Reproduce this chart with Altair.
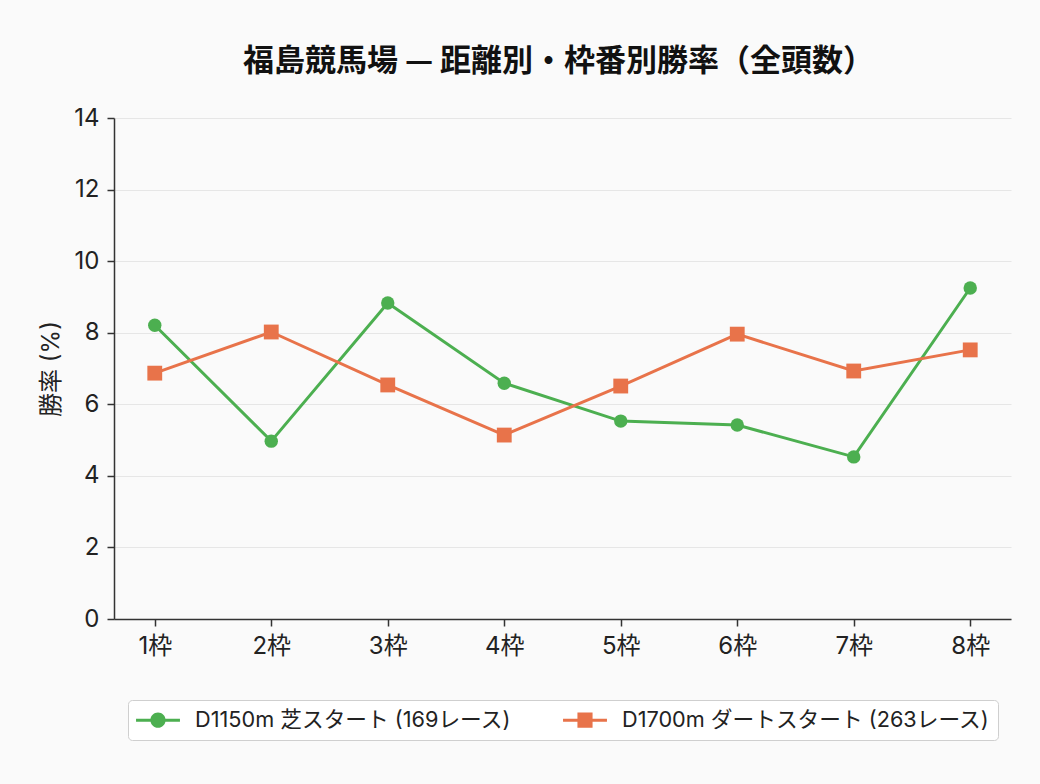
import altair as alt
import pandas as pd

# Win rate (%) by starting gate, Fukushima racecourse
frames = ["1枠", "2枠", "3枠", "4枠", "5枠", "6枠", "7枠", "8枠"]
turf_start_rate = [8.21, 4.97, 8.83, 6.59, 5.53, 5.42, 4.53, 9.25]
dirt_start_rate = [6.87, 8.02, 6.54, 5.14, 6.51, 7.96, 6.93, 7.52]
series_names = ["D1150m 芝スタート (169レース)", "D1700m ダートスタート (263レース)"]
series_colors = ["#4CAF50", "#E8734A"]
y_ticks = [0, 2, 4, 6, 8, 10, 12, 14]

FONT = "Inter, Noto Sans CJK JP"
TITLE_FONT = "Noto Sans CJK JP"

rows = []
for name, values in zip(series_names, [turf_start_rate, dirt_start_rate]):
    for f, v in zip(frames, values):
        rows.append({"frame": f, "rate": v, "series": name})
df = pd.DataFrame(rows)

# legend glyphs: a short line with the series marker on it
line_part = "M-1.83,-0.125L1.83,-0.125L1.83,0.125L-1.83,0.125Z"
key_circle = line_part + " M0.63,0A0.63,0.63,0,1,1,-0.63,0A0.63,0.63,0,1,1,0.63,0Z"
key_square = line_part + " M-0.63,-0.63L0.63,-0.63L0.63,0.63L-0.63,0.63Z"

x_enc = alt.X(
    "frame:N",
    sort=frames,
    scale=alt.Scale(type="point", padding=0.35),
    axis=alt.Axis(title=None, labelAngle=0, grid=False, labelPadding=8),
)
y_enc = alt.Y(
    "rate:Q",
    scale=alt.Scale(domain=[0, 14], nice=False),
    axis=alt.Axis(values=y_ticks, title="勝率 (%)", grid=True, labelPadding=8, titlePadding=10),
)

base = alt.Chart(df)


def series_layers(name, color, marker, size):
    sub = base.transform_filter(alt.datum.series == name)
    line = sub.mark_line(strokeWidth=3, color=color).encode(x=x_enc, y=y_enc)
    if marker == "circle":
        pts = sub.mark_circle(size=size, opacity=1, color=color)
    else:
        pts = sub.mark_square(size=size, opacity=1, color=color)
    return [line, pts.encode(x=x_enc, y=y_enc)]


layers = series_layers(series_names[0], series_colors[0], "circle", 180)
layers += series_layers(series_names[1], series_colors[1], "square", 220)

legend_def = dict(
    orient="none",
    legendX=14,
    legendY=582,
    direction="horizontal",
    title=None,
    symbolSize=576,
    symbolStrokeWidth=0,
    symbolOpacity=1,
    labelFontSize=21.7,
    labelFont=FONT,
    labelColor="#222222",
    labelLimit=0,
    strokeColor="#cfcfcf",
    fillColor="#ffffff",
    padding=8,
    cornerRadius=4,
    columnPadding=51,
    labelOffset=25,
    symbolOffset=10,
)

# invisible points that carry the series legend
key = base.mark_point(filled=True, opacity=0).encode(
    x=x_enc,
    y=y_enc,
    color=alt.Color(
        "series:N",
        scale=alt.Scale(domain=series_names, range=series_colors),
        legend=alt.Legend(**legend_def),
    ),
    shape=alt.Shape(
        "series:N",
        scale=alt.Scale(domain=series_names, range=[key_circle, key_square]),
        legend=alt.Legend(**legend_def),
    ),
)

chart = (
    alt.layer(key, *layers)
    .properties(
        width=897,
        height=501,
        autosize=alt.AutoSizeParams(type="none"),
        padding={"left": 114, "top": 118, "right": 29, "bottom": 165},
        background="#fafafa",
        title=alt.Title(
            "福島競馬場 — 距離別・枠番別勝率（全頭数）",
            font=TITLE_FONT,
            fontSize=31,
            fontWeight="bold",
            color="#111111",
            anchor="middle",
            dx=-4,
            offset=28,
        ),
    )
    .configure_view(stroke=None)
    .configure_axis(
        labelFont=FONT,
        titleFont=FONT,
        labelFontSize=24,
        titleFontSize=24,
        titleFontWeight="normal",
        labelColor="#222222",
        titleColor="#222222",
        domainColor="#333333",
        domainWidth=1.5,
        tickColor="#333333",
        tickWidth=1.5,
        tickSize=7,
        gridColor="#e6e6e6",
        gridWidth=1,
    )
)

chart.save("out.html", embed_options={"renderer": "svg", "actions": False})
